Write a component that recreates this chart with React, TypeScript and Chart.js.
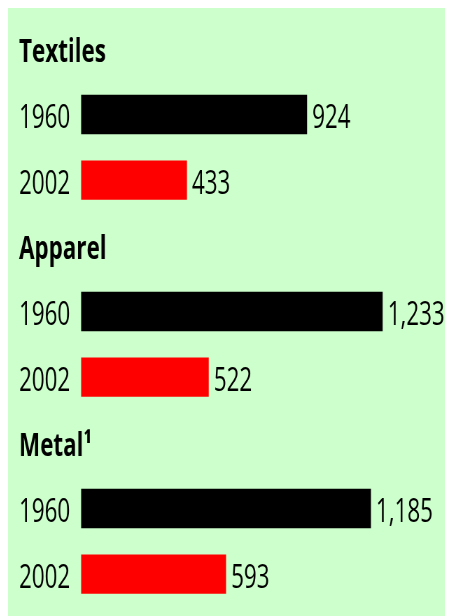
import React, { useEffect, useRef } from "react";
import { Chart, registerables } from "chart.js";

Chart.register(...registerables);

// ---- data ----
const groups = ["Textiles", "Apparel", "Metal\u00B9"];
const years = ["1960", "2002"];
const values1960 = [924, 1233, 1185];
const values2002 = [433, 522, 593];
const yearColors = ["#000000", "#ff0000"];
const xMax = 1500;

// ---- layout (display px) ----
const SX = 0.7; // horizontal condensing of the whole canvas
const W = 445;
const H = 610;
const CW = Math.round(W / SX);
const FONT = "'Open Sans', 'Noto Sans', sans-serif";
const FS = 32;
const TEXT_DY = 4.5;

export default function App() {
  const ref = useRef<HTMLCanvasElement | null>(null);

  useEffect(() => {
    const canvas = ref.current;
    if (!canvas) return;

    const labels: string[] = [];
    const data: (number | null)[] = [];
    const colors: string[] = [];
    groups.forEach((g, gi) => {
      labels.push(g);
      data.push(null);
      colors.push("rgba(0,0,0,0)");
      const vals = [values1960[gi], values2002[gi]];
      years.forEach((y, yi) => {
        labels.push(y);
        data.push(vals[yi]);
        colors.push(yearColors[yi]);
      });
    });

    const padLeft = 11 / SX;
    const axisW = (81 - 19) / SX;
    const padRight = CW - 440 / SX;

    const valueLabels = {
      id: "valueLabels",
      afterDatasetsDraw(chart: any) {
        const ctx = chart.ctx;
        const meta = chart.getDatasetMeta(0);
        ctx.save();
        ctx.font = `normal ${FS}px ${FONT}`;
        ctx.fillStyle = "#000";
        ctx.textAlign = "left";
        ctx.textBaseline = "middle";
        meta.data.forEach((bar: any, i: number) => {
          const v = data[i];
          if (v == null) return;
          ctx.fillText(v.toLocaleString("en-US"), bar.x + 5 / SX, bar.y + TEXT_DY);
        });
        ctx.restore();
      },
    };

    const chart = new Chart(canvas, {
      type: "bar",
      data: {
        labels,
        datasets: [
          {
            data,
            backgroundColor: colors,
            borderWidth: 0,
            barPercentage: 0.6,
            categoryPercentage: 1,
          },
        ],
      },
      options: {
        indexAxis: "y",
        animation: false,
        responsive: false,
        devicePixelRatio: 1,
        layout: { padding: { left: padLeft, right: padRight, top: 10, bottom: 9 } },
        plugins: {
          legend: { display: false },
          tooltip: { enabled: false },
        },
        scales: {
          x: { display: false, min: 0, max: xMax },
          y: {
            grid: { display: false },
            border: { display: false },
            afterFit: (scale: any) => {
              scale.width = axisW;
              scale.paddingTop = 0;
              scale.paddingBottom = 0;
            },
            ticks: {
              autoSkip: false,
              mirror: true,
              crossAlign: "near",
              padding: -axisW,
              labelOffset: TEXT_DY,
              color: "#000",
              font: (ctx: any) => ({
                family: FONT,
                size: FS,
                weight: ctx.index % 3 === 0 ? "bold" : "normal",
              }),
            },
          },
        },
      },
      plugins: [valueLabels],
    });
    return () => chart.destroy();
  }, []);

  return (
    <div
      style={{
        width: W,
        height: H,
        marginTop: -2,
        background: "#ccffcc",
        overflow: "hidden",
        position: "relative",
      }}
    >
      <canvas
        ref={ref}
        width={CW}
        height={H}
        style={{
          width: CW,
          height: H,
          display: "block",
          transform: `scaleX(${SX})`,
          transformOrigin: "0 0",
        }}
      />
    </div>
  );
}
